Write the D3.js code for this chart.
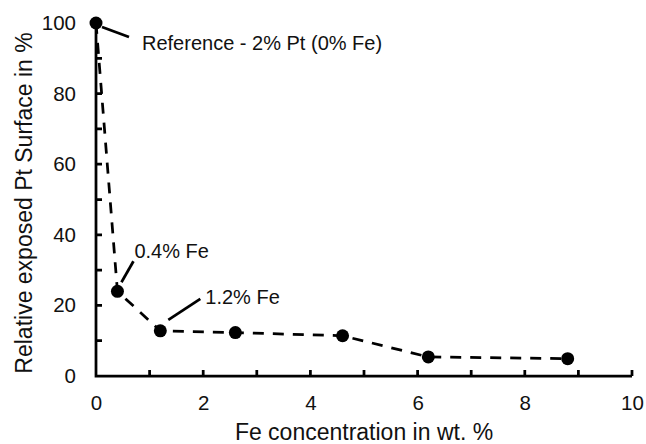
<!DOCTYPE html>
<head>
  <meta charset="utf-8">
  <script src="https://d3js.org/d3.v7.min.js"></script>
  <style>
    body { margin:0; background:white; }
    svg { background:white; font-family:"Liberation Sans", Arial, sans-serif; }
  </style>
</head>
<body>
<script>
  // Fe loading (wt. %) vs relative exposed Pt surface (%)
  var feConc = [0, 0.4, 1.2, 2.6, 4.6, 6.2, 8.8];
  var ptSurface = [100, 24, 12.8, 12.3, 11.4, 5.4, 4.9];

  var xTicks = [0, 2, 4, 6, 8, 10];
  var yTicks = [0, 20, 40, 60, 80, 100];

  // annotated points: index into the series, label, leader offsets (px)
  var notes = [
    { i: 0, label: "Reference - 2% Pt (0% Fe)", from: [6, 4], to: [33, 14], text: [46, 27] },
    { i: 1, label: "0.4% Fe", from: [4, -9], to: [16, -30], text: [17, -33] },
    { i: 2, label: "1.2% Fe", from: [8, -11], to: [40, -32], text: [45, -27] }
  ];

  var width = 646, height = 444;
  var ink = "#111";
  var lw = 2.75;
  var svg = d3.select("body").append("svg")
    .attr("width", width)
    .attr("height", height);

  var x = d3.scaleLinear().domain([0, 10]).range([96, 632]);
  var y = d3.scaleLinear().domain([0, 100]).range([376, 23]);

  // tick labels from d3 axes
  var gx = svg.append("g")
    .attr("transform", "translate(0," + y(0) + ")")
    .call(d3.axisBottom(x).tickValues(xTicks).tickSize(0).tickPadding(19));

  var gy = svg.append("g")
    .attr("transform", "translate(" + x(0) + ",0)")
    .call(d3.axisLeft(y).tickValues(yTicks).tickSize(0).tickPadding(20));

  [gx, gy].forEach(function(g){
    g.select(".domain").remove();
    g.selectAll("text")
      .attr("font-family", "'Liberation Sans', Arial, sans-serif")
      .attr("font-size", 20.5)
      .attr("fill", ink);
  });

  // axis frame as one path (L shape) plus inward ticks every unit / every 10
  var frame = d3.path();
  frame.moveTo(x(0), y(100));
  frame.lineTo(x(0), y(0));
  frame.lineTo(x(10), y(0));
  d3.range(1, 11, 1).forEach(function(v){
    frame.moveTo(x(v), y(0));
    frame.lineTo(x(v), y(0) - 6);
  });
  d3.range(10, 101, 10).forEach(function(v){
    frame.moveTo(x(0), y(v));
    frame.lineTo(x(0) + 6, y(v));
  });

  svg.append("path")
    .attr("d", frame.toString())
    .attr("fill", "none")
    .attr("stroke", "black")
    .attr("stroke-width", lw);

  // titles
  svg.append("text")
    .attr("x", (x(0) + x(10)) / 2)
    .attr("y", 440)
    .attr("text-anchor", "middle")
    .style("font-size", "23px").style("fill", ink)
    .text("Fe concentration in wt. %");

  svg.append("text")
    .attr("transform", "translate(32," + 203 + ") rotate(-90)")
    .attr("text-anchor", "middle")
    .style("font-size", "23px").style("fill", ink)
    .text("Relative exposed Pt Surface in %");

  var pts = feConc.map(function(d, i){ return { x: d, y: ptSurface[i] }; });

  var line = d3.line()
    .x(function(d){ return x(d.x); })
    .y(function(d){ return y(d.y); });

  svg.append("path")
    .attr("d", line(pts))
    .attr("fill", "none")
    .attr("stroke", "black")
    .attr("stroke-width", lw)
    .attr("stroke-dasharray", "11 9");

  svg.selectAll(".dot")
    .data(pts)
    .enter().append("circle")
    .attr("class", "dot")
    .attr("cx", function(d){ return x(d.x); })
    .attr("cy", function(d){ return y(d.y); })
    .attr("r", 6.5)
    .attr("fill", "black");

  // annotations
  var ann = svg.selectAll(".note").data(notes).enter().append("g").attr("class", "note")
    .attr("transform", function(d){ return "translate(" + x(feConc[d.i]) + "," + y(ptSurface[d.i]) + ")"; });

  ann.append("line")
    .attr("x1", function(d){ return d.from[0]; })
    .attr("y1", function(d){ return d.from[1]; })
    .attr("x2", function(d){ return d.to[0]; })
    .attr("y2", function(d){ return d.to[1]; })
    .attr("stroke", "black")
    .attr("stroke-width", lw);

  ann.append("text")
    .attr("x", function(d){ return d.text[0]; })
    .attr("y", function(d){ return d.text[1]; })
    .style("font-size", "20px").style("fill", ink)
    .text(function(d){ return d.label; });
</script>
</body>
